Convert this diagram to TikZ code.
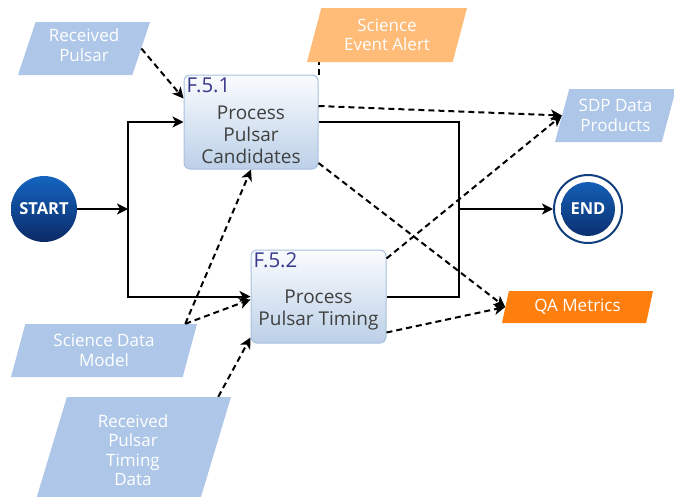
\documentclass[tikz,border=0pt]{standalone}
\usepackage{fontspec}
\setmainfont{Open Sans}
\usetikzlibrary{arrows.meta,shapes.geometric,backgrounds}

\definecolor{databg}{HTML}{AEC7E8}
\definecolor{alertbg}{HTML}{FFBB78}
\definecolor{qabg}{HTML}{FF7F0E}
\definecolor{boxtop}{HTML}{FAFCFE}
\definecolor{boxbot}{HTML}{BCD0E8}
\definecolor{boxline}{HTML}{A9C1DE}
\definecolor{idtext}{HTML}{38388C}
\definecolor{bodytext}{HTML}{404040}
\definecolor{navytop}{HTML}{1565C0}
\definecolor{navybot}{HTML}{0B2A66}
\definecolor{navyring}{HTML}{123F7E}

\begin{document}
\begin{tikzpicture}[x=1pt,y=-1pt]
	\tikzstyle{io}=[trapezium, trapezium left angle=66, trapezium right angle=114, trapezium stretches body, inner sep=0pt, text=white, align=center, font=\fontsize{17}{19.5}\selectfont]
	\tikzstyle{func}=[rectangle, rounded corners=6pt, draw=boxline, line width=1pt, top color=boxtop, bottom color=boxbot, minimum width=134pt, minimum height=94pt]
	\tikzstyle{funcid}=[anchor=north west, inner sep=3pt, text=idtext, font=\fontsize{20.5}{22}\selectfont]
	\tikzstyle{funcname}=[yshift=-13pt, align=center, text=bodytext, font=\fontsize{19}{22}\selectfont]
	\tikzstyle{term}=[circle, minimum size=66pt, inner sep=0pt, text=white, font=\fontsize{16.5}{18}\selectfont\bfseries, top color=navytop, bottom color=navybot]
	\tikzstyle{link}=[line width=2pt]
	\tikzstyle{flow}=[link, -{Stealth[length=11pt,width=11pt,inset=3pt]}]
	\tikzstyle{dataflow}=[flow, dash pattern=on 6pt off 4pt]
	\useasboundingbox (0,0) rectangle (674,496);

	\node[term] (start) at (44,209) {START};
	\node[term, minimum size=68pt, draw=navyring, line width=2pt, fill=white, top color=white, bottom color=white,
		path picture={\shade[top color=navytop, bottom color=navybot] (path picture bounding box.center) circle (27pt);}] (end) at (588,209) {END};
	\node[func, label={[funcid]north west:F.5.1}, label={[funcname]center:Process\\Pulsar\\Candidates}] (f51) at (251,122) {};
	\node[func, minimum width=135pt, minimum height=93pt, label={[funcid]north west:F.5.2}, label={[funcname]center:Process\\Pulsar Timing}] (f52) at (318.5,296.5) {};

	\node[io, fill=databg, minimum width=132pt, minimum height=53pt] (rp) at (84,48.5) {Received\\Pulsar\vspace{7pt}};
	\node[io, fill=alertbg, minimum width=160pt, minimum height=54pt] (sea) at (387,35) {Science\\Event Alert};
	\node[io, fill=databg, minimum width=121pt, minimum height=53pt] (sda) at (615.5,115.5) {SDP Data\\Products};
	\node[io, fill=qabg, minimum width=151pt, minimum height=32pt] (qa) at (577.5,307) {QA Metrics};
	\node[io, fill=databg, minimum width=186pt, minimum height=53pt] (sdm) at (104,350.5) {Science Data\\Model};
	\node[io, fill=databg, minimum width=196pt, minimum height=106pt] (rptd) at (133,450) {Received\\Pulsar\\Timing\\Data};

	% control flow
	\coordinate (split) at (128,209);
	\coordinate (merge) at (459,209);
	\draw[flow] (start) -- (split);
	\draw[flow] (split) |- (f51);
	\draw[flow] (split) |- (f52);
	\draw[link] (f51) -| (merge);
	\draw[link] (f52) -| (merge);
	\draw[flow] (merge) -- (end);

	% data flow
	\begin{scope}[on background layer]
		\draw[dataflow] (f51.north east) -- (f51.north east |- sea.center);
	\end{scope}
	\draw[dataflow] (rp.east) -- ([yshift=-24pt]f51.north west);
	\draw[dataflow] ([yshift=16pt]f51.east) -- (sda.west);
	\draw[dataflow] ([yshift=38pt]f52.east) -- (sda.west);
	\draw[dataflow] ([yshift=-41pt]f51.east) -- (qa.west);
	\draw[dataflow] ([yshift=-36pt]f52.east) -- (qa.west);
	\draw[dataflow] ([xshift=-12pt]sdm.top right corner) -- (f51.south);
	\draw[dataflow] ([xshift=-12pt]sdm.top right corner) -- ([yshift=-3pt]f52.west);
	\draw[dataflow] ([xshift=-13pt]rptd.top right corner) -- ([yshift=-41pt]f52.west);
\end{tikzpicture}
\end{document}
